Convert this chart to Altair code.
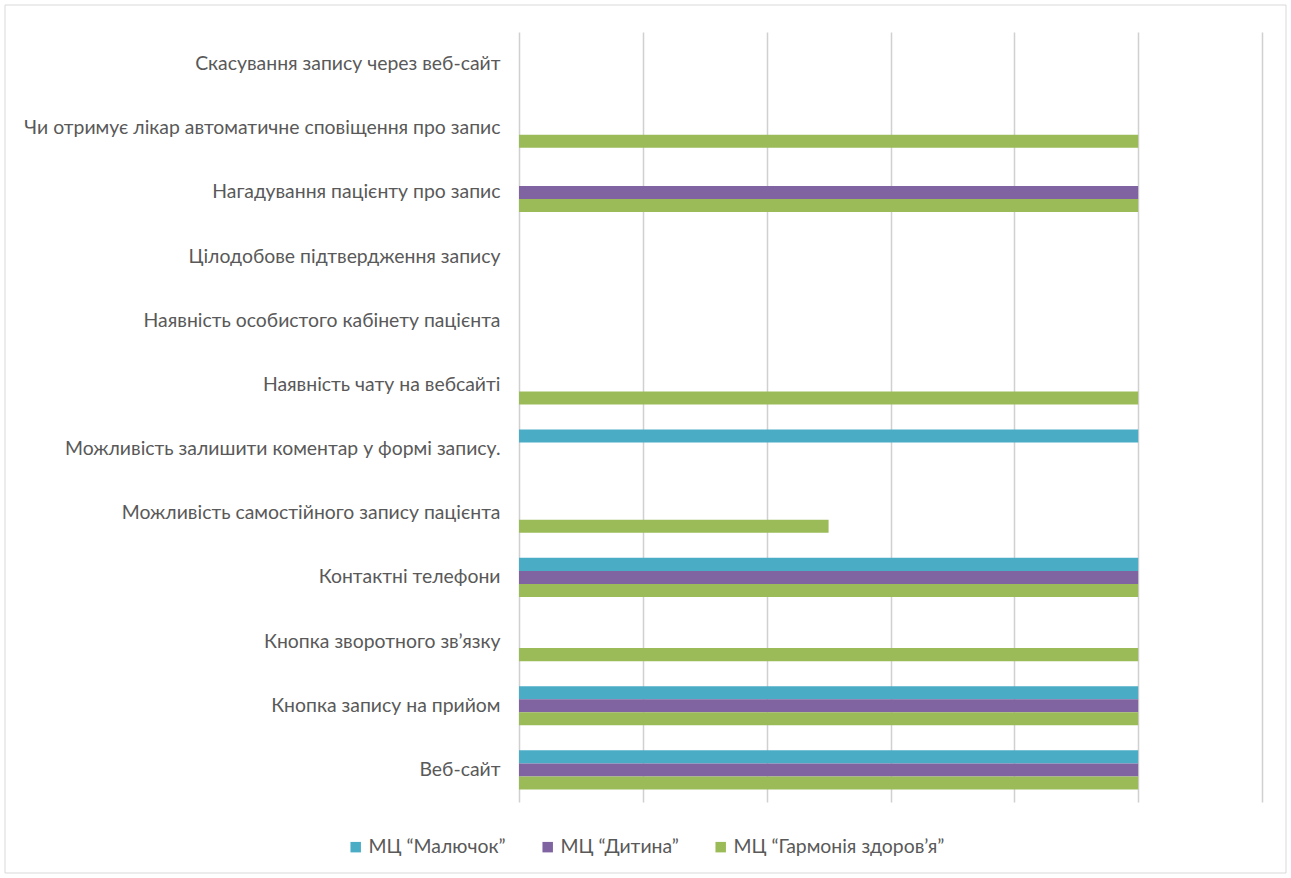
import altair as alt
import pandas as pd

categories = [
    "Скасування запису через веб-сайт",
    "Чи отримує лікар автоматичне сповіщення про запис",
    "Нагадування пацієнту про запис",
    "Цілодобове підтвердження запису",
    "Наявність особистого кабінету пацієнта",
    "Наявність чату на вебсайті",
    "Можливість залишити коментар у формі запису.",
    "Можливість самостійного запису пацієнта",
    "Контактні телефони",
    "Кнопка зворотного зв’язку",
    "Кнопка запису на прийом",
    "Веб-сайт",
]
series = ["МЦ “Малючок”", "МЦ “Дитина”", "МЦ “Гармонія здоров’я”"]
malyuchok = [0, 0, 0, 0, 0, 0, 1, 0, 1, 0, 1, 1]
dytyna = [0, 0, 1, 0, 0, 0, 0, 0, 1, 0, 1, 1]
harmoniya = [0, 1, 1, 0, 0, 1, 0, 0.5, 1, 1, 1, 1]
colors = ["#4BACC6", "#8064A2", "#9BBB59"]

rows = []
for s, vals in zip(series, [malyuchok, dytyna, harmoniya]):
    for c, v in zip(categories, vals):
        rows.append({"cat": c, "series": s, "value": v})
df = pd.DataFrame(rows)

FONT = "Lato"
GRAY = "#595959"

bars = alt.Chart(df).mark_bar().encode(
    y=alt.Y("cat:N", sort=categories, title=None,
            scale=alt.Scale(paddingInner=0.39, paddingOuter=0.195),
            axis=alt.Axis(domain=False, ticks=False, labelPadding=19,
                          labelLimit=600, labelFont=FONT, labelFontSize=19.4,
                          labelColor=GRAY)),
    yOffset=alt.YOffset("series:N", sort=series, scale=alt.Scale(paddingInner=0, paddingOuter=0)),
    x=alt.X("value:Q", title=None,
            scale=alt.Scale(domain=[0, 1.2], nice=False),
            axis=alt.Axis(values=[0, 0.2, 0.4, 0.6, 0.8, 1.0, 1.2], labels=False,
                          ticks=False, domain=False, grid=True,
                          gridColor="#d0d0d0", gridWidth=1.5)),
    color=alt.Color("series:N", sort=series,
                    scale=alt.Scale(domain=series, range=colors),
                    legend=alt.Legend(title=None, orient="none", legendX=-173,
                                      legendY=805, direction="horizontal",
                                      columns=3, columnPadding=32,
                                      symbolType="square", symbolSize=110,
                                      symbolStrokeWidth=0, labelOffset=3,
                                      labelFont=FONT, labelFontSize=19.4,
                                      labelColor=GRAY, labelLimit=400)),
)

border = alt.Chart(alt.Data(values=[{}])).mark_rect(
    fill=None, stroke="#d9d9d9", strokeWidth=1, clip=False
).encode(
    x=alt.value(-514), x2=alt.value(767), y=alt.value(-27), y2=alt.value(841)
)

chart = alt.layer(border, bars).properties(
    width=743, height=770,
    autosize=alt.AutoSizeParams(type="none"),
    padding={"left": 519, "top": 32, "right": 29, "bottom": 76},
    background="white",
).configure_view(stroke=None)

chart.save("out.html", embed_options={"renderer": "svg", "actions": False})
